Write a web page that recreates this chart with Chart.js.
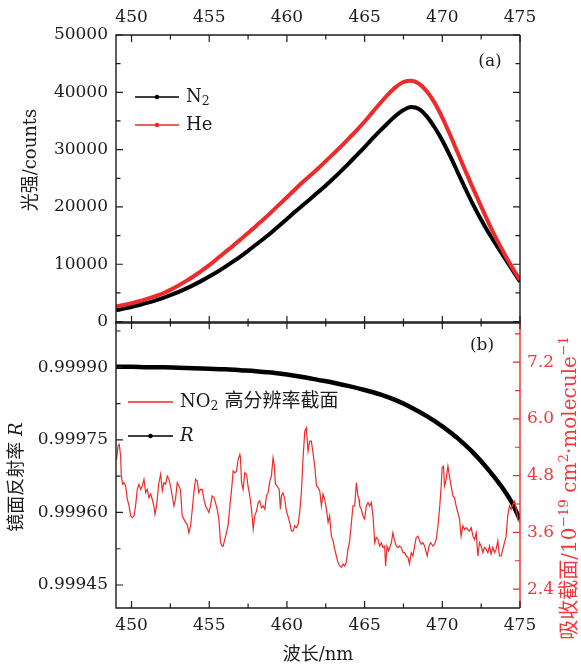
<!DOCTYPE html>
<html>
<head>
<meta charset="utf-8">
<script src="https://cdn.jsdelivr.net/npm/chart.js@4.4.1/dist/chart.umd.min.js"></script>
<style>
  html, body { margin: 0; background: #fff; }
  #wrap { position: relative; width: 581px; height: 665px; }
  #wrap canvas { position: absolute; left: 0; top: 0; }
</style>
</head>
<body>
<div id="wrap">
  <canvas id="topChart" width="581" height="665"></canvas>
  <canvas id="bottomChart" width="581" height="665"></canvas>
</div>
<script>
// ---- data ----
const wavelengths = [449, 449.5, 450, 450.5, 451, 451.5, 452, 452.5, 453, 453.5, 454, 454.5, 455, 455.5,
  456, 456.5, 457, 457.5, 458, 458.5, 459, 459.5, 460, 460.5, 461, 461.5, 462, 462.5, 463, 463.5,
  464, 464.5, 465, 465.5, 466, 466.5, 467, 467.5, 468, 468.5, 469, 469.5, 470, 470.5, 471, 471.5,
  472, 472.5, 473, 473.5, 474, 474.5, 475];
const n2Counts = [1950, 2250, 2550, 2900, 3250, 3650, 4100, 4600, 5150, 5750, 6400, 7100, 7850, 8650,
  9500, 10400, 11350, 12350, 13400, 14450, 15550, 16700, 17900, 19100, 20250, 21400, 22550, 23750, 25000, 26300,
  27650, 29050, 30450, 31900, 33300, 34650, 35900, 36900, 37450, 37100, 35800, 33900, 31600, 28900, 26000, 23100,
  20300, 17750, 15400, 13250, 11150, 9050, 6950];
const heCounts = [2600, 2900, 3200, 3550, 3950, 4400, 4900, 5530, 6250, 7050, 7900, 8850, 9850, 10950,
  12050, 13150, 14300, 15450, 16650, 17850, 19100, 20400, 21700, 23000, 24300, 25500, 26700, 28000, 29300, 30600,
  32000, 33400, 34900, 36500, 38100, 39600, 40900, 41800, 42000, 41500, 40200, 38200, 35600, 32600, 29400, 26200,
  23100, 20100, 17100, 14350, 11800, 9450, 7250];

const rWavelengths = [449, 450, 451, 452, 453, 454, 455, 456, 457, 458, 459, 460, 461, 462, 463, 464, 465,
  466, 467, 468, 469, 470, 471, 472, 473, 474, 474.5, 475];
const reflectivity = [0.999901, 0.999901, 0.9999, 0.9999, 0.999899, 0.999898, 0.999897, 0.999896, 0.999894,
  0.999892, 0.999889, 0.999885, 0.99988, 0.999874, 0.999868, 0.999861, 0.999853, 0.999844, 0.999832,
  0.999817, 0.999799, 0.999778, 0.999753, 0.999723, 0.999687, 0.999645, 0.999619, 0.999585];

const no2Wavelengths = [449.04, 449.13, 449.21, 449.3, 449.34, 449.43, 449.51, 449.62, 449.73, 449.84, 449.94,
  450.05, 450.16, 450.26, 450.37, 450.48, 450.58, 450.69, 450.8, 450.91, 451.01, 451.12, 451.23, 451.33, 451.44,
  451.51, 451.61, 451.76, 451.87, 451.98, 452.08, 452.19, 452.3, 452.41, 452.51, 452.62, 452.73, 452.83, 452.94,
  453.15, 453.26, 453.37, 453.48, 453.58, 453.69, 453.8, 453.91, 454.01, 454.12, 454.23, 454.33, 454.44, 454.55,
  454.66, 454.76, 454.98, 455.08, 455.19, 455.3, 455.4, 455.51, 455.62, 455.73, 455.83, 455.9, 456.0, 456.11,
  456.22, 456.33, 456.44, 456.54, 456.65, 456.76, 456.86, 456.97, 457.01, 457.08, 457.18, 457.29, 457.4, 457.51,
  457.61, 457.72, 457.83, 457.93, 458.04, 458.15, 458.25, 458.36, 458.47, 458.58, 458.68, 458.79, 458.9, 459.0,
  459.11, 459.18, 459.26, 459.37, 459.5, 459.58, 459.65, 459.75, 459.86, 459.97, 460.18, 460.29, 460.4, 460.5,
  460.61, 460.72, 460.82, 460.93, 461.04, 461.15, 461.25, 461.36, 461.47, 461.57, 461.68, 461.79, 461.9, 462.0,
  462.11, 462.22, 462.32, 462.43, 462.54, 462.65, 462.75, 462.86, 462.97, 463.08, 463.18, 463.29, 463.4, 463.5,
  463.61, 463.72, 463.82, 463.93, 464.04, 464.15, 464.25, 464.36, 464.47, 464.57, 464.64, 464.68, 464.79, 464.89,
  465.0, 465.11, 465.22, 465.32, 465.43, 465.54, 465.65, 465.75, 465.86, 465.97, 466.07, 466.18, 466.29, 466.35,
  466.44, 466.54, 466.72, 466.82, 466.93, 467.04, 467.14, 467.25, 467.36, 467.47, 467.57, 467.68, 467.79, 467.89,
  468.0, 468.11, 468.22, 468.32, 468.43, 468.54, 468.64, 468.75, 468.86, 468.97, 469.03, 469.14, 469.25, 469.39,
  469.5, 469.61, 469.72, 469.82, 469.93, 469.99, 470.08, 470.14, 470.25, 470.36, 470.46, 470.57, 470.68, 470.79,
  470.89, 471.0, 471.11, 471.21, 471.32, 471.43, 471.54, 471.64, 471.75, 471.86, 471.97, 472.07, 472.18, 472.29,
  472.39, 472.5, 472.61, 472.71, 472.82, 472.93, 473.04, 473.14, 473.25, 473.36, 473.46, 473.57, 473.68, 473.79,
  473.89, 474.0, 474.11, 474.21, 474.32, 474.43, 474.54, 474.64, 474.75, 474.86, 475.0];
const no2Cross = [5.14, 5.43, 5.46, 5.21, 4.79, 4.62, 4.65, 4.58, 4.3, 4.16, 3.95,
  3.91, 3.95, 4.16, 4.51, 4.62, 4.51, 4.58, 4.72, 4.44, 4.51, 4.33, 4.41, 4.3, 4.16,
  3.98, 4.16, 4.65, 4.83, 4.48, 4.65, 4.62, 4.79, 4.72, 4.58, 4.37, 4.16, 4.3, 4.65,
  4.51, 3.95, 3.88, 3.81, 3.77, 3.59, 3.74, 4.09, 4.44, 4.72, 4.69, 4.44, 4.51, 4.51,
  4.3, 4.16, 4.02, 4.16, 4.37, 4.34, 4.23, 4.09, 3.88, 3.38, 3.31, 3.31, 3.45, 3.59,
  3.77, 4.16, 4.51, 4.9, 4.86, 4.9, 5.14, 5.25, 5.18, 4.65, 4.51, 4.86, 4.83, 4.55,
  4.37, 4.09, 3.67, 3.95, 4.05, 4.23, 4.27, 4.12, 4.16, 4.09, 4.37, 4.44, 4.69, 4.79,
  5.18, 5.04, 4.62, 4.58, 4.51, 4.09, 4.37, 4.44, 4.3, 4.05, 3.81, 3.63, 3.63, 3.74,
  3.7, 3.77, 4.02, 4.44, 5.18, 5.74, 5.81, 5.32, 5.53, 5.53, 5.28, 5.0, 4.58, 4.55,
  4.48, 4.16, 4.41, 4.3, 4.09, 3.81, 3.95, 3.52, 3.42, 3.24, 3.1, 2.96, 2.89, 2.86,
  2.93, 2.89, 2.96, 3.24, 3.42, 3.81, 4.16, 4.16, 4.65, 4.37, 4.3, 4.16, 4.09, 3.95,
  3.88, 4.16, 4.23, 4.16, 4.23, 3.95, 3.38, 3.49, 3.45, 3.31, 3.38, 3.28, 3.31, 2.89,
  3.31, 3.21, 3.38, 3.59, 3.42, 3.31, 3.28, 3.31, 3.28, 3.17, 3.17, 3.1, 3.07, 2.93,
  3.17, 3.1, 3.31, 3.49, 3.52, 3.42, 3.35, 3.38, 3.31, 3.17, 3.1, 3.31, 3.38, 3.31,
  3.35, 3.45, 3.74, 4.09, 4.58, 4.97, 5.0, 4.58, 4.72, 5.0, 4.79, 4.58, 4.37, 4.33,
  4.16, 4.02, 3.88, 3.52, 3.74, 3.66, 3.7, 3.66, 3.63, 3.7, 3.52, 3.45, 3.59, 3.1,
  3.38, 3.31, 3.17, 3.28, 3.24, 3.17, 3.31, 3.14, 3.28, 3.17, 3.24, 3.42, 3.1, 3.1,
  3.24, 3.38, 3.52, 3.95, 4.16, 4.09, 4.19, 4.26, 4.09, 3.88, 3.8];

// tick values
const xMajor = [450, 455, 460, 465, 470, 475];
const xMinor = [452.5, 457.5, 462.5, 467.5, 472.5];
const countMajor = [0, 10000, 20000, 30000, 40000, 50000];
const countMinor = [5000, 15000, 25000, 35000, 45000];
const rMajor = [0.99945, 0.9996, 0.99975, 0.9999];
const rMinor = [0.999525, 0.999675, 0.999825, 0.999975];
const crossMajor = [2.4, 3.6, 4.8, 6.0, 7.2];
const crossMinor = [3.0, 4.2, 5.4, 6.6, 7.8];

// ---- styling ----
const RED = "#ee2a2a";
const RED_TEXT = "#f0393b";
const INK = "#1c1c1c";
const FAMILY = '"DejaVu Serif", "Noto Sans CJK SC", serif';
const f = (size, style) => `${style || ""} ${size}px ${FAMILY}`;
const tickFont = { family: FAMILY, size: 17 };

function pts(xs, ys) {
  return xs.map((x, i) => ({ x, y: ys[i] }));
}

function setTicks(values) {
  return (scale) => { scale.ticks = values.map((v) => ({ value: v })); };
}

// draw a run of text pieces (sub/superscripts) centred or left-aligned, optionally rotated
function drawRich(ctx, parts, x, y, opts = {}) {
  ctx.save();
  ctx.translate(x, y);
  if (opts.angle) ctx.rotate(opts.angle);
  ctx.fillStyle = opts.color || INK;
  ctx.textBaseline = "middle";
  ctx.textAlign = "left";
  let total = 0;
  parts.forEach((p) => { ctx.font = p.font; p.w = ctx.measureText(p.text).width; total += p.w; });
  let cx = opts.align === "left" ? 0 : -total / 2;
  parts.forEach((p) => { ctx.font = p.font; ctx.fillText(p.text, cx, p.dy || 0); cx += p.w; });
  ctx.restore();
}

function legendLine(ctx, x1, x2, y, color, dot) {
  ctx.save();
  ctx.strokeStyle = color;
  ctx.fillStyle = color;
  ctx.lineWidth = 1.4;
  ctx.beginPath(); ctx.moveTo(x1, y); ctx.lineTo(x2, y); ctx.stroke();
  if (dot) { ctx.beginPath(); ctx.arc((x1 + x2) / 2, y, 2.3, 0, Math.PI * 2); ctx.fill(); }
  ctx.restore();
}

// inward tick marks along one axis
function tickMarks(ctx, chart, scale, values, len, sides, color) {
  const a = chart.chartArea;
  ctx.save();
  ctx.strokeStyle = color;
  ctx.lineWidth = 1.2;
  ctx.beginPath();
  values.forEach((v) => {
    const p = scale.getPixelForValue(v);
    if (scale.isHorizontal()) {
      if (sides.includes("top")) { ctx.moveTo(p, a.top); ctx.lineTo(p, a.top + len); }
      if (sides.includes("bottom")) { ctx.moveTo(p, a.bottom); ctx.lineTo(p, a.bottom - len); }
    } else {
      if (sides.includes("left")) { ctx.moveTo(a.left, p); ctx.lineTo(a.left + len, p); }
      if (sides.includes("right")) { ctx.moveTo(a.right, p); ctx.lineTo(a.right - len, p); }
    }
  });
  ctx.stroke();
  ctx.restore();
}

function frame(ctx, a, rightColor) {
  ctx.save();
  ctx.lineWidth = 1.4;
  ctx.strokeStyle = INK;
  ctx.beginPath();
  ctx.moveTo(a.right, a.top); ctx.lineTo(a.left, a.top); ctx.lineTo(a.left, a.bottom); ctx.lineTo(a.right, a.bottom);
  ctx.stroke();
  ctx.strokeStyle = rightColor;
  ctx.beginPath(); ctx.moveTo(a.right, a.top); ctx.lineTo(a.right, a.bottom); ctx.stroke();
  ctx.restore();
}

const hideGrid = { display: false, drawTicks: false };

// ---- top panel (a) ----
const topDecor = {
  id: "topDecor",
  afterDraw(chart) {
    const { ctx, chartArea: a, scales } = chart;
    frame(ctx, a, INK);
    tickMarks(ctx, chart, scales.x, xMajor, 7, ["top", "bottom"], INK);
    tickMarks(ctx, chart, scales.x, xMinor, 4.5, ["top", "bottom"], INK);
    tickMarks(ctx, chart, scales.y, countMajor, 7, ["left", "right"], INK);
    tickMarks(ctx, chart, scales.y, countMinor, 4.5, ["left", "right"], INK);

    drawRich(ctx, [{ text: "光强/counts", font: f(18) }], 31, 160, { angle: -Math.PI / 2 });
    drawRich(ctx, [{ text: "(a)", font: f(17) }], a.right - 30, a.top + 27);

    legendLine(ctx, a.left + 19, a.left + 63, a.top + 62, "#000", true);
    drawRich(ctx, [{ text: "N", font: f(18) }, { text: "2", font: f(12.5), dy: 5 }], a.left + 70, a.top + 62, { align: "left" });
    legendLine(ctx, a.left + 19, a.left + 63, a.top + 90, RED, true);
    drawRich(ctx, [{ text: "He", font: f(18) }], a.left + 70, a.top + 90, { align: "left" });
  },
};

new Chart(document.getElementById("topChart"), {
  type: "line",
  data: {
    datasets: [
      { label: "He", data: pts(wavelengths, heCounts), borderColor: RED, backgroundColor: RED,
        borderWidth: 4, pointRadius: 0, cubicInterpolationMode: "monotone" },
      { label: "N2", data: pts(wavelengths, n2Counts), borderColor: "#000", backgroundColor: "#000",
        borderWidth: 4, pointRadius: 0, cubicInterpolationMode: "monotone" },
    ],
  },
  options: {
    responsive: false,
    animation: false,
    devicePixelRatio: 1,
    layout: { padding: { left: 0, right: 61, top: 0, bottom: 342 } },
    plugins: { legend: { display: false }, tooltip: { enabled: false } },
    scales: {
      x: {
        type: "linear", position: "top", min: 449, max: 475,
        afterBuildTicks: setTicks(xMajor),
        afterFit: (s) => { s.height = 35; },
        grid: hideGrid, border: { display: false },
        ticks: { font: tickFont, color: INK, padding: 7, maxRotation: 0, autoSkip: false, callback: (v) => String(v) },
      },
      y: {
        type: "linear", min: -250, max: 50000,
        afterBuildTicks: setTicks(countMajor),
        afterFit: (s) => { s.width = 116; },
        grid: hideGrid, border: { display: false },
        ticks: { font: tickFont, color: INK, padding: 8, autoSkip: false, callback: (v) => String(v) },
      },
    },
  },
  plugins: [topDecor],
});

// ---- bottom panel (b) ----
const bottomDecor = {
  id: "bottomDecor",
  afterDraw(chart) {
    const { ctx, chartArea: a, scales } = chart;
    frame(ctx, a, RED);
    tickMarks(ctx, chart, scales.x, xMajor, 7, ["top", "bottom"], INK);
    tickMarks(ctx, chart, scales.x, xMinor, 4.5, ["top", "bottom"], INK);
    tickMarks(ctx, chart, scales.y, rMajor, 7, ["left"], INK);
    tickMarks(ctx, chart, scales.y, rMinor, 4.5, ["left"], INK);
    tickMarks(ctx, chart, scales.y2, crossMajor, 7, ["right"], RED);
    tickMarks(ctx, chart, scales.y2, crossMinor, 5, ["right"], RED);

    drawRich(ctx, [{ text: "(b)", font: f(17) }], a.right - 38, a.top + 24);
    drawRich(ctx, [{ text: "波长/nm", font: f(18) }], (a.left + a.right) / 2, 655);
    drawRich(ctx, [{ text: "镜面反射率 ", font: f(18) }, { text: "R", font: f(18, "italic") }], 17, 477, { angle: -Math.PI / 2 });
    drawRich(ctx, [
      { text: "吸收截面/10", font: f(20) },
      { text: "−19", font: f(13.5), dy: -7 },
      { text: " cm", font: f(20) },
      { text: "2", font: f(13.5), dy: -7 },
      { text: "·molecule", font: f(20) },
      { text: "−1", font: f(13.5), dy: -7 },
    ], 571, 488, { angle: -Math.PI / 2, color: RED_TEXT });

    legendLine(ctx, a.left + 12, a.left + 57, a.top + 80, RED, false);
    drawRich(ctx, [
      { text: "NO", font: f(18) }, { text: "2", font: f(12.5), dy: 5 }, { text: " 高分辨率截面", font: f(19) },
    ], a.left + 64, a.top + 80, { align: "left" });
    legendLine(ctx, a.left + 12, a.left + 57, a.top + 114, "#000", true);
    drawRich(ctx, [{ text: "R", font: f(18, "italic") }], a.left + 64, a.top + 114, { align: "left" });
  },
};

new Chart(document.getElementById("bottomChart"), {
  type: "line",
  data: {
    datasets: [
      { label: "NO2", data: pts(no2Wavelengths, no2Cross), yAxisID: "y2", borderColor: RED,
        borderWidth: 1.2, pointRadius: 0, tension: 0 },
      { label: "R", data: pts(rWavelengths, reflectivity), yAxisID: "y", borderColor: "#000",
        borderWidth: 4.5, pointRadius: 0, cubicInterpolationMode: "monotone" },
    ],
  },
  options: {
    responsive: false,
    animation: false,
    devicePixelRatio: 1,
    layout: { padding: { left: 0, right: 0, top: 322, bottom: 0 } },
    plugins: { legend: { display: false }, tooltip: { enabled: false } },
    scales: {
      x: {
        type: "linear", position: "bottom", min: 449, max: 475,
        afterBuildTicks: setTicks(xMajor),
        afterFit: (s) => { s.height = 57; },
        grid: hideGrid, border: { display: false },
        ticks: { font: tickFont, color: INK, padding: 7, maxRotation: 0, autoSkip: false, callback: (v) => String(v) },
      },
      y: {
        type: "linear", position: "left", min: 0.9994025, max: 0.9999936,
        afterBuildTicks: setTicks(rMajor),
        afterFit: (s) => { s.width = 116; },
        grid: hideGrid, border: { display: false },
        ticks: { font: tickFont, color: INK, padding: 8, autoSkip: false, callback: (v) => v.toFixed(5) },
      },
      y2: {
        type: "linear", position: "right", min: 2.0, max: 8.05,
        afterBuildTicks: setTicks(crossMajor),
        afterFit: (s) => { s.width = 61; },
        grid: hideGrid, border: { display: false },
        ticks: { font: tickFont, color: RED_TEXT, padding: 7, autoSkip: false, callback: (v) => v.toFixed(1) },
      },
    },
  },
  plugins: [bottomDecor],
});
</script>
</body>
</html>
